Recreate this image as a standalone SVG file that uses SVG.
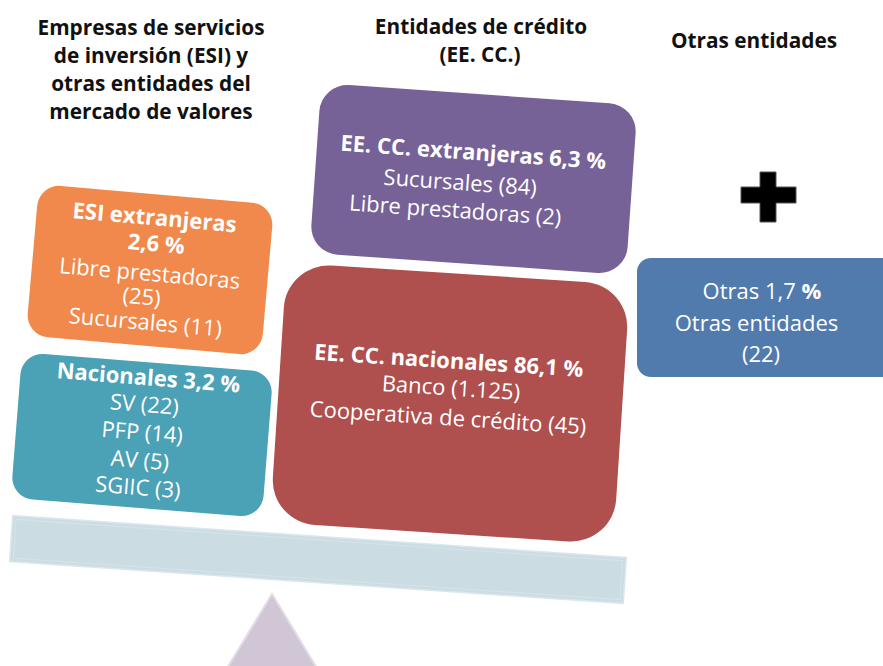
<svg xmlns="http://www.w3.org/2000/svg" width="883" height="666" viewBox="0 0 883 666">
<style>
text{font-family:"Open Sans","Noto Sans","Liberation Sans",sans-serif;text-anchor:middle}
.h{font-weight:bold;font-size:20.8px;fill:#111}
.t{fill:#fff;font-size:22px}
.b{font-weight:bold}
</style>
<rect width="883" height="666" fill="#fff"/>
<g id="headers">
<text class="h" x="151" y="35">Empresas de servicios</text>
<text class="h" x="151" y="63">de inversión (ESI) y</text>
<text class="h" x="151" y="91">otras entidades del</text>
<text class="h" x="151" y="119">mercado de valores</text>
<text class="h" x="481" y="34">Entidades de crédito</text>
<text class="h" x="480" y="62">(EE. CC.)</text>
<text class="h" x="754" y="48">Otras entidades</text>
</g>
<g id="fulcrum">
<polygon points="272,594 220,680 324,680" fill="#d1c6d5" stroke="#e2dbe5" stroke-width="2"/>
</g>
<g id="beam" transform="translate(318,559.5) rotate(3.9)">
<rect x="-307.5" y="-23" width="615" height="46" fill="#cbdce3" stroke="#d9e7ec" stroke-width="1.5"/>
<rect x="-304" y="-19.5" width="608" height="39" fill="none" stroke="#d6e4e9" stroke-width="1"/>
</g>
<g id="esi-extranjeras" transform="translate(150,270) rotate(5)">
<rect x="-118" y="-76" width="236" height="152" rx="22" fill="#f0894b"/>
<text class="t b" y="-45">ESI extranjeras</text>
<text class="t b" x="4" y="-19">2,6 %</text>
<text class="t" y="11">Libre prestadoras</text>
<text class="t" x="-6" y="35">(25)</text>
<text class="t" y="60">Sucursales (11)</text>
</g>
<g id="nacionales" transform="translate(142,435) rotate(4.5)">
<rect x="-126" y="-73" width="252" height="146" rx="22" fill="#4ba1b6"/>
<text class="t b" x="2" y="-50" font-size="23">Nacionales 3,2 %</text>
<text class="t" y="-23" font-size="23">SV (22)</text>
<text class="t" y="5" font-size="23">PFP (14)</text>
<text class="t" y="33" font-size="23">AV (5)</text>
<text class="t" y="60" font-size="23">SGIIC (3)</text>
</g>
<g id="eecc-extranjeras" transform="translate(473.5,179) rotate(4)">
<rect x="-158.5" y="-85" width="317" height="170" rx="28" fill="#776298"/>
<text class="t b" x="-2" y="-19" font-size="22.5">EE. CC. extranjeras 6,3 %</text>
<text class="t" x="-13" y="12" font-size="22.5">Sucursales (84)</text>
<text class="t" x="-16" y="40" font-size="22.5">Libre prestadoras (2)</text>
</g>
<g id="eecc-nacionales" transform="translate(450,403.5) rotate(3.7)">
<rect x="-172" y="-130" width="344" height="260" rx="45" fill="#af504f"/>
<text class="t b" x="-4" y="-35" font-size="24">EE. CC. nacionales 86,1 %</text>
<text class="t" y="-8" font-size="19.5">Banco (1.125)</text>
<text class="t" x="-1" y="22" font-size="19.5">Cooperativa de crédito (45)</text>
</g>
<g id="plus">
<polygon points="760,172 776,172 776,187 796,187 796,203 776,203 776,222 760,222 760,203 741,203 741,187 760,187" fill="#000" stroke="#555" stroke-width="1"/>
</g>
<g id="otras">
<rect x="637" y="258" width="262" height="119" rx="14" fill="#517bad"/>
<text class="t" x="762" y="299" font-size="20.6">Otras 1,7 <tspan class="b">%</tspan></text>
<text class="t" x="756.5" y="331" font-size="20.6">Otras entidades</text>
<text class="t" x="761" y="362" font-size="20.6">(22)</text>
</g>
</svg>
